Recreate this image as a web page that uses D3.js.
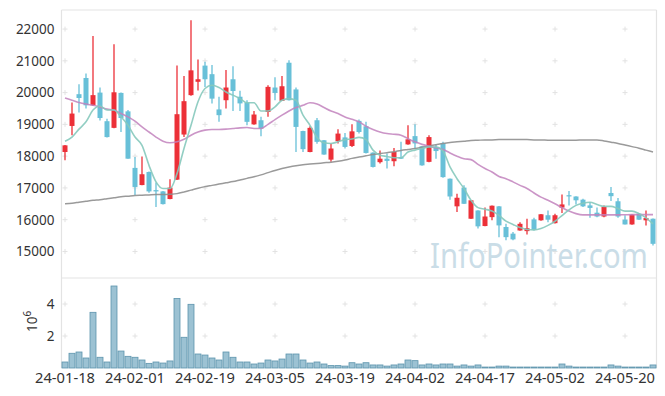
<!DOCTYPE html>
<html>
<head>
<meta charset="utf-8">
<script src="https://cdn.jsdelivr.net/npm/d3@7"></script>
<style>
  body { margin: 0; background: #fff; }
  svg { display: block; font-family: "Noto Sans", "Open Sans", sans-serif; }
</style>
</head>
<body>
<svg id="chart"></svg>
<script>
// trading days shown on the chart
const dates = [
    "24-01-18","24-01-19","24-01-22","24-01-23","24-01-24","24-01-25","24-01-26","24-01-29","24-01-30","24-01-31",
    "24-02-01","24-02-02","24-02-05","24-02-06","24-02-07","24-02-08","24-02-13","24-02-14","24-02-15","24-02-16",
    "24-02-19","24-02-20","24-02-21","24-02-22","24-02-23","24-02-26","24-02-27","24-02-28","24-02-29","24-03-04",
    "24-03-05","24-03-06","24-03-07","24-03-08","24-03-11","24-03-12","24-03-13","24-03-14","24-03-15","24-03-18",
    "24-03-19","24-03-20","24-03-21","24-03-22","24-03-25","24-03-26","24-03-27","24-03-28","24-03-29","24-04-01",
    "24-04-02","24-04-03","24-04-04","24-04-05","24-04-08","24-04-09","24-04-11","24-04-12","24-04-15","24-04-16",
    "24-04-17","24-04-18","24-04-19","24-04-22","24-04-23","24-04-24","24-04-25","24-04-26","24-04-29","24-04-30",
    "24-05-02","24-05-03","24-05-07","24-05-08","24-05-09","24-05-10","24-05-13","24-05-14","24-05-16","24-05-17",
    "24-05-20","24-05-21","24-05-22","24-05-23","24-05-24"
];

const open = [
    18130,18950,19950,20460,19600,20000,19100,18890,19990,19410,
    17630,17090,17500,16930,16890,16650,17260,18680,19920,20340,
    20850,20580,19470,19760,20420,19870,19680,19000,19130,19390,
    20160,19740,20940,20100,18790,18130,19130,18500,17890,18470,
    18590,18320,19110,18940,18110,17810,17920,17840,17970,18370,
    18630,18310,17820,18290,18410,17290,16420,17010,16030,16290,
    15800,16080,16420,15770,15560,15660,15640,16010,15980,16140,
    15890,16380,16770,16730,16630,16450,16220,16100,16840,16580,
    16000,15850,16190,15980,16030
];
const high = [
    18350,19690,20260,20600,21780,20160,19180,21520,20000,19450,
    17970,17990,17520,17170,16900,17270,20850,20520,22280,21040,
    20970,20870,19870,20710,20830,20060,19760,19420,19240,20230,
    20480,20520,21020,20160,18800,18940,19200,18510,18400,18850,
    18730,19000,19150,19080,18120,18180,18080,18260,18450,18970,
    19000,18320,18660,18370,18450,17300,16820,17080,16620,16300,
    16380,16450,16430,15870,15610,15920,16030,16060,16180,16290,
    16190,16790,16900,16740,16660,16550,16380,16450,17030,16680,
    16140,16170,16210,16290,16040
];
const low = [
    17870,18660,19370,19500,19580,19120,18590,18880,18760,17920,
    16770,17080,16850,16400,16480,16640,17250,18600,19900,20070,
    20180,19660,19080,19500,19420,19420,18970,18990,18630,19240,
    19760,19740,19750,18130,18130,18120,18390,18040,17820,18400,
    18240,18290,18710,18080,17640,17770,17610,17680,17910,18360,
    18240,17700,17810,17920,17320,16630,16240,16490,16020,15720,
    15790,15980,15450,15350,15350,15650,15530,15660,15970,15920,
    15880,16210,16450,16480,16400,16060,16080,16080,16590,16060,
    15850,15840,15990,15820,15190
];
const close = [
    18340,19340,19830,19600,19920,19200,18600,20010,19200,17920,
    17030,17430,16890,16890,16490,17010,19320,19730,20700,20420,
    20420,19810,19290,20160,20050,19660,19080,19310,18870,20180,
    19990,20200,19760,18920,18220,18890,18450,18050,18240,18710,
    18290,18780,18760,18100,17660,17920,17850,18130,17920,18530,
    18400,17710,18600,18160,17340,16730,16690,16500,16610,15790,
    16100,16440,15820,15450,15380,15870,15730,15680,16170,16000,
    16140,16480,16750,16610,16420,16370,16100,16400,16740,16100,
    15850,16160,16000,16050,15240
];

// moving averages as drawn on the chart
const ma5 = [
    18470,18600,18850,19080,19450,19580,19450,19450,19240,18970,
    18600,18340,17710,17190,16980,16980,17450,18240,18970,19710,
    20130,20230,20160,20020,19920,19810,19680,19680,19420,19420,
    19550,19760,19810,19760,19290,18970,18590,18420,18400,18450,
    18520,18540,18590,18520,18190,18030,17990,17950,17950,18130,
    18190,18240,18290,18290,18160,17660,17290,16980,16610,16380,
    16330,16270,16135,15955,15850,15750,15690,15680,15720,15820,
    15950,16130,16310,16450,16520,16550,16480,16420,16420,16350,
    16270,16270,16190,16060,15870
];
const ma20 = [
    19830,19760,19690,19640,19600,19550,19480,19450,19340,19235,
    19100,18920,18760,18600,18470,18420,18450,18530,18660,18760,
    18820,18840,18840,18850,18870,18890,18900,18870,18870,19000,
    19150,19290,19420,19530,19600,19680,19640,19530,19420,19340,
    19235,19160,19080,18940,18840,18760,18710,18690,18660,18550,
    18450,18370,18310,18260,18210,18100,18000,17920,17890,17740,
    17610,17500,17360,17290,17190,17080,16980,16840,16710,16610,
    16500,16380,16270,16190,16150,16150,16150,16150,16150,16150,
    16155,16160,16160,16160,16160
];
const ma60 = [
    16500,16520,16550,16580,16610,16630,16660,16690,16720,16740,
    16760,16770,16780,16790,16790,16800,16820,16870,16930,16990,
    17040,17080,17120,17160,17200,17250,17300,17350,17410,17480,
    17550,17610,17660,17700,17730,17750,17770,17790,17810,17840,
    17880,17930,17970,18010,18050,18080,18110,18140,18180,18210,
    18240,18280,18320,18360,18400,18430,18450,18470,18490,18500,
    18510,18510,18520,18520,18520,18520,18520,18510,18510,18500,
    18500,18500,18500,18500,18510,18510,18510,18480,18440,18400,
    18350,18300,18250,18190,18130
];

const volume = [
    375000,920000,1000000,625000,3480000,670000,375000,5125000,1060000,730000,
    670000,500000,290000,375000,310000,440000,4350000,1920000,3980000,875000,
    810000,625000,500000,1000000,670000,375000,375000,250000,310000,500000,
    440000,560000,875000,875000,500000,310000,375000,250000,150000,150000,
    120000,330000,250000,330000,190000,190000,120000,190000,250000,500000,
    460000,190000,250000,190000,250000,250000,120000,190000,120000,190000,
    60000,60000,120000,120000,60000,60000,60000,60000,60000,60000,
    60000,250000,120000,60000,60000,60000,60000,60000,190000,120000,
    60000,60000,60000,60000,190000
];

const priceTicks = [15000, 16000, 17000, 18000, 19000, 20000, 21000, 22000];
const volumeTicks = [2e6, 4e6];

const width = 665;
const height = 396;
const plotLeft = 61.5, plotRight = 656.5;
const plotTop = 10, priceBottom = 277.5, volTop = 278, volBottom = 368;

const upColor = "#ec3038";
const downColor = "#68c0d8";

const candles = dates.map((d, i) => ({
    date: d, open: open[i], high: high[i], low: low[i], close: close[i], volume: volume[i]
}));

const x = d3.scaleBand()
    .domain(dates)
    .range([plotLeft, plotRight])
    .padding(0);

const y = d3.scaleLinear()
    .domain([14180, 22600])
    .range([priceBottom, plotTop]);

const yv = d3.scaleLinear()
    .domain([0, 5.625e6])
    .range([volBottom, volTop]);

const cx = d => x(d) + x.bandwidth() / 2;

const svg = d3.select("#chart")
    .attr("width", width)
    .attr("height", height)
    .attr("viewBox", [0, 0, width, height]);

// frame
const frame = svg.append("g")
    .attr("stroke", "#e3e3e3")
    .attr("stroke-width", 1.2)
    .attr("fill", "none");
frame.append("line").attr("x1", plotLeft).attr("x2", plotRight).attr("y1", plotTop).attr("y2", plotTop);
frame.append("line").attr("x1", plotLeft).attr("x2", plotLeft).attr("y1", plotTop).attr("y2", volBottom);
frame.append("line").attr("x1", plotRight).attr("x2", plotRight).attr("y1", plotTop).attr("y2", volBottom);
frame.append("line").attr("x1", plotLeft).attr("x2", plotRight).attr("y1", priceBottom + 0.5).attr("y2", priceBottom + 0.5);

// "+" grid marks
const gridX = dates.filter((d, i) => i % 10 === 0);
const crosses = [];
gridX.forEach(d => {
    priceTicks.forEach(v => crosses.push([cx(d), y(v)]));
    volumeTicks.forEach(v => crosses.push([cx(d), yv(v)]));
});
svg.append("g")
    .attr("stroke", "#e2e2e2")
    .attr("stroke-width", 1)
    .selectAll("path")
    .data(crosses)
    .join("path")
        .attr("d", d => `M${d[0] - 2.5},${d[1]}h5M${d[0]},${d[1] - 2.5}v5`);

// watermark, squeezed horizontally to fit its slot
const mark = svg.append("text")
    .attr("font-size", 34)
    .attr("fill", "#cadde7")
    .text("InfoPointer.com");
const markLen = mark.node().getComputedTextLength();
mark.attr("transform", `translate(430,268) scale(${218 / markLen},1)`);

// candles
const candle = svg.append("g")
    .selectAll("g")
    .data(candles)
    .join("g")
        .attr("fill", d => d.close >= d.open ? upColor : downColor)
        .attr("stroke", d => d.close >= d.open ? upColor : downColor);

candle.append("line")
    .attr("x1", d => cx(d.date))
    .attr("x2", d => cx(d.date))
    .attr("y1", d => y(d.high))
    .attr("y2", d => y(d.low))
    .attr("stroke-width", 1.3);

candle.append("rect")
    .attr("stroke", "none")
    .attr("x", d => cx(d.date) - 2.5)
    .attr("width", 5)
    .attr("y", d => y(Math.max(d.open, d.close)))
    .attr("height", d => Math.max(1.2, Math.abs(y(d.open) - y(d.close))));

// moving averages
const maLine = arr => d3.line()
    .x((v, i) => cx(dates[i]))
    .y(v => y(v))
    .curve(d3.curveMonotoneX)(arr);

svg.append("path").attr("d", maLine(ma60))
    .attr("fill", "none").attr("stroke", "#8f8f8f").attr("stroke-width", 1.5).attr("stroke-opacity", 0.9);
svg.append("path").attr("d", maLine(ma20))
    .attr("fill", "none").attr("stroke", "#c283bd").attr("stroke-width", 1.6).attr("stroke-opacity", 0.85);
svg.append("path").attr("d", maLine(ma5))
    .attr("fill", "none").attr("stroke", "#86c9bd").attr("stroke-width", 1.6).attr("stroke-opacity", 0.9);

// volume bars
svg.append("g")
    .selectAll("rect")
    .data(candles)
    .join("rect")
        .attr("x", d => x(d.date) + 0.5)
        .attr("width", x.bandwidth() - 1)
        .attr("y", d => yv(d.volume))
        .attr("height", d => yv(0) - yv(d.volume))
        .attr("fill", "#9cc2d3")
        .attr("stroke", "#5d94ad")
        .attr("stroke-width", 0.8);

// axes
const yAxis = svg.append("g")
    .attr("transform", `translate(${plotLeft},0)`)
    .call(d3.axisLeft(y).tickValues(priceTicks).tickSize(0).tickPadding(7).tickFormat(d3.format("d")));
yAxis.select(".domain").remove();
yAxis.selectAll("text").attr("font-size", 13.5).attr("fill", "#333").attr("font-family", "Noto Sans");

const vAxis = svg.append("g")
    .attr("transform", `translate(${plotLeft},0)`)
    .call(d3.axisLeft(yv).tickValues(volumeTicks).tickSize(0).tickPadding(7).tickFormat(d => d / 1e6));
vAxis.select(".domain").remove();
vAxis.selectAll("text").attr("font-size", 13.5).attr("fill", "#333").attr("font-family", "Noto Sans");

const xAxis = svg.append("g")
    .attr("transform", `translate(0,${volBottom})`)
    .call(d3.axisBottom(x).tickValues(gridX).tickSize(0).tickPadding(5));
xAxis.select(".domain").remove();
xAxis.selectAll("text").attr("font-size", 13.5).attr("fill", "#333").attr("font-family", "Noto Sans")
    .attr("textLength", 60).attr("lengthAdjust", "spacingAndGlyphs");

// volume unit label
const unit = svg.append("text")
    .attr("transform", "translate(37,332) rotate(-90)")
    .attr("font-size", 13.5)
    .attr("fill", "#333");
unit.append("tspan").text("10");
unit.append("tspan").attr("font-size", 10).attr("dy", -6).text("6");
</script>
</body>
</html>
